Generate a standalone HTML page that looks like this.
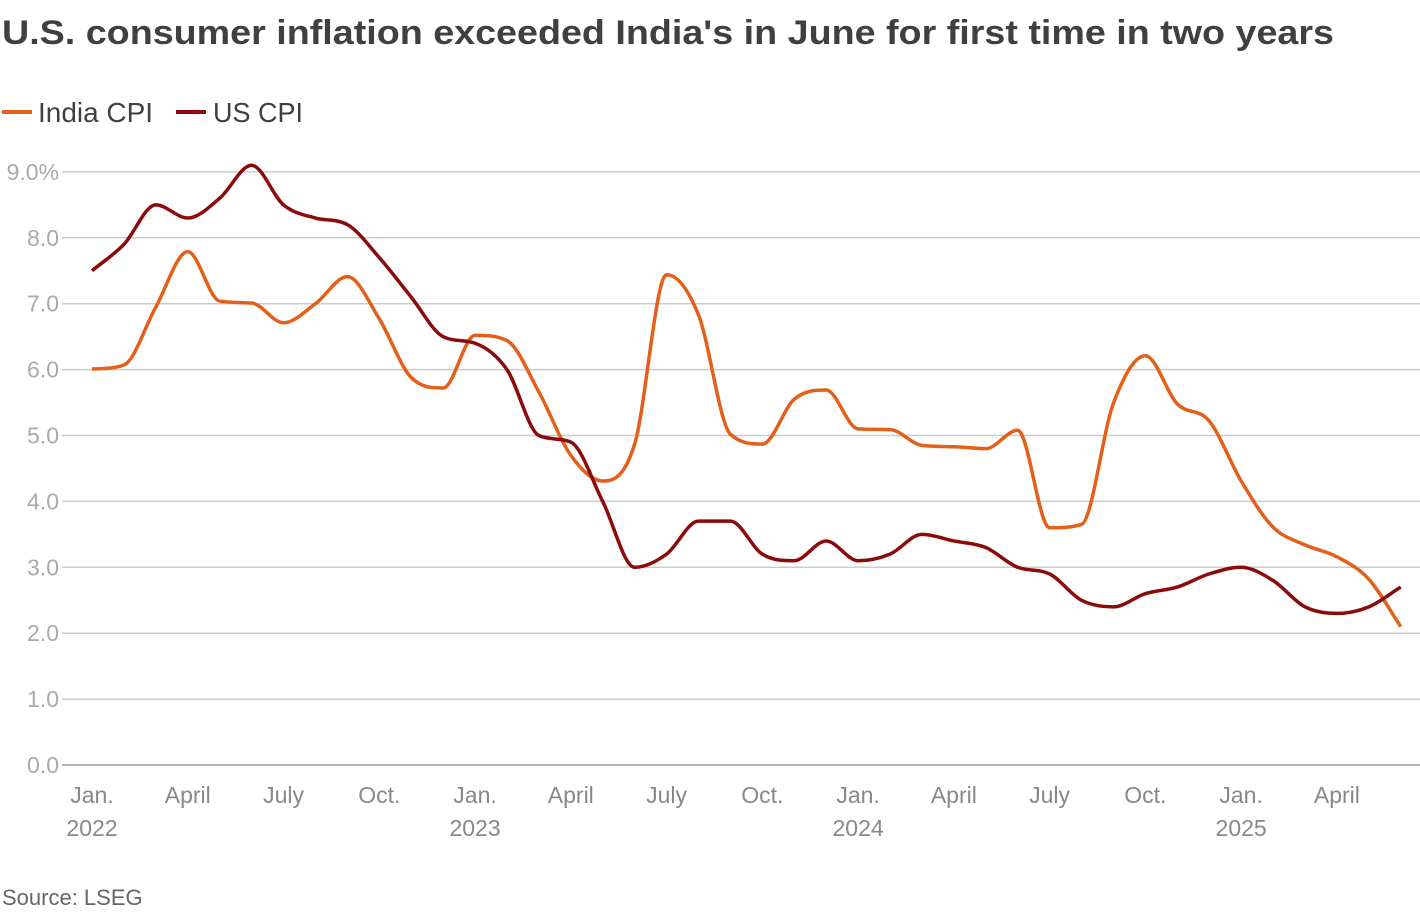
<!DOCTYPE html>
<html><head><meta charset="utf-8"><style>
body{margin:0;background:#fff;width:1420px;height:914px;overflow:hidden;font-family:"Liberation Sans",sans-serif}
</style></head><body>
<svg width="1420" height="914" xmlns="http://www.w3.org/2000/svg">
<text x="2" y="44" font-size="34" font-weight="bold" fill="#404040" textLength="1332" lengthAdjust="spacingAndGlyphs">U.S. consumer inflation exceeded India's in June for first time in two years</text>
<g>
<line x1="2" y1="112" x2="32" y2="112" stroke="#e35f1a" stroke-width="4"/>
<text x="38" y="122" font-size="28" fill="#404040" textLength="115" lengthAdjust="spacingAndGlyphs">India CPI</text>
<line x1="176" y1="112" x2="206" y2="112" stroke="#8b0a0a" stroke-width="4"/>
<text x="213" y="122" font-size="28" fill="#404040" textLength="90" lengthAdjust="spacingAndGlyphs">US CPI</text>
</g>
<g id="grid"></g><g id="xax"></g><g id="lines"></g>
<text x="2" y="905" font-size="22" fill="#666">Source: LSEG</text>
</svg>
<script>
const yTicks=[0,1,2,3,4,5,6,7,8,9];
const yTickLabels=["0.0","1.0","2.0","3.0","4.0","5.0","6.0","7.0","8.0","9.0%"];
const xTickMonths=[0,3,6,9,12,15,18,21,24,27,30,33,36,39];
const xTickLabels=["Jan.","April","July","Oct.","Jan.","April","July","Oct.","Jan.","April","July","Oct.","Jan.","April"];
const xYearLabels={0:"2022",12:"2023",24:"2024",36:"2025"};
const indiaCPI=[6.01,6.07,6.95,7.79,7.04,7.01,6.71,7.0,7.41,6.77,5.88,5.72,6.52,6.44,5.66,4.7,4.31,4.87,7.44,6.83,5.02,4.87,5.55,5.69,5.1,5.09,4.85,4.83,4.8,5.08,3.6,3.65,5.49,6.21,5.48,5.22,4.31,3.61,3.34,3.16,2.82,2.10];
const usCPI=[7.5,7.9,8.5,8.3,8.6,9.1,8.5,8.3,8.2,7.7,7.1,6.5,6.4,6.0,5.0,4.9,4.0,3.0,3.2,3.7,3.7,3.2,3.1,3.4,3.1,3.2,3.5,3.4,3.3,3.0,2.9,2.5,2.4,2.6,2.7,2.9,3.0,2.8,2.4,2.3,2.4,2.7];
const NS="http://www.w3.org/2000/svg";
const xs=m=>92+m*31.92, ys=v=>765-v*65.9;
function mk(t,a,p){const e=document.createElementNS(NS,t);for(const k in a)e.setAttribute(k,a[k]);p.appendChild(e);return e;}
const g=document.getElementById('grid');
yTicks.forEach((v,i)=>{
 const l=mk('line',{x1:62,x2:1420,y1:ys(v),y2:ys(v),stroke:i==0?'#999':'#ccc','stroke-width':1.5},g);
 
 
 const t=mk('text',{x:59,y:ys(v)+8,'text-anchor':'end','font-size':23,fill:'#aaa'},g);
 t.textContent=yTickLabels[i];
 
 
});
const xa=document.getElementById('xax');
xTickMonths.forEach((m,i)=>{
 const t=mk('text',{x:xs(m),y:803,'text-anchor':'middle','font-size':23,fill:'#888'},xa);
 t.textContent=xTickLabels[i];
 
 
 if(xYearLabels[m]){const y=mk('text',{x:xs(m),y:836,'text-anchor':'middle','font-size':23,fill:'#888'},xa);
 y.textContent=xYearLabels[m];
 
 }
});
function path(d){const p=d.map((v,i)=>[xs(i),ys(v)]);const n=p.length;const h=p[1][0]-p[0][0];
 const dl=[];for(let i=0;i<n-1;i++)dl.push((p[i+1][1]-p[i][1])/h);
 const m=[dl[0]];for(let i=1;i<n-1;i++){m.push(dl[i-1]*dl[i]<=0?0:(dl[i-1]+dl[i])/2);}m.push(dl[n-2]);
 for(let i=0;i<n-1;i++){if(dl[i]===0){m[i]=0;m[i+1]=0;continue;}const a=m[i]/dl[i],b=m[i+1]/dl[i],s=a*a+b*b;if(s>9){const t=3/Math.sqrt(s);m[i]=t*a*dl[i];m[i+1]=t*b*dl[i];}}
 let s=`M${p[0][0]},${p[0][1]}`;
 for(let i=0;i<n-1;i++){s+=`C${p[i][0]+h/3},${p[i][1]+m[i]*h/3} ${p[i+1][0]-h/3},${p[i+1][1]-m[i+1]*h/3} ${p[i+1][0]},${p[i+1][1]}`;}return s;}
const L=document.getElementById('lines');
const a=mk('path',{d:path(indiaCPI),fill:'none',stroke:'#e35f1a','stroke-width':3.5},L);


const b=mk('path',{d:path(usCPI),fill:'none',stroke:'#8b0a0a','stroke-width':3.5},L);


</script>
</body></html>
